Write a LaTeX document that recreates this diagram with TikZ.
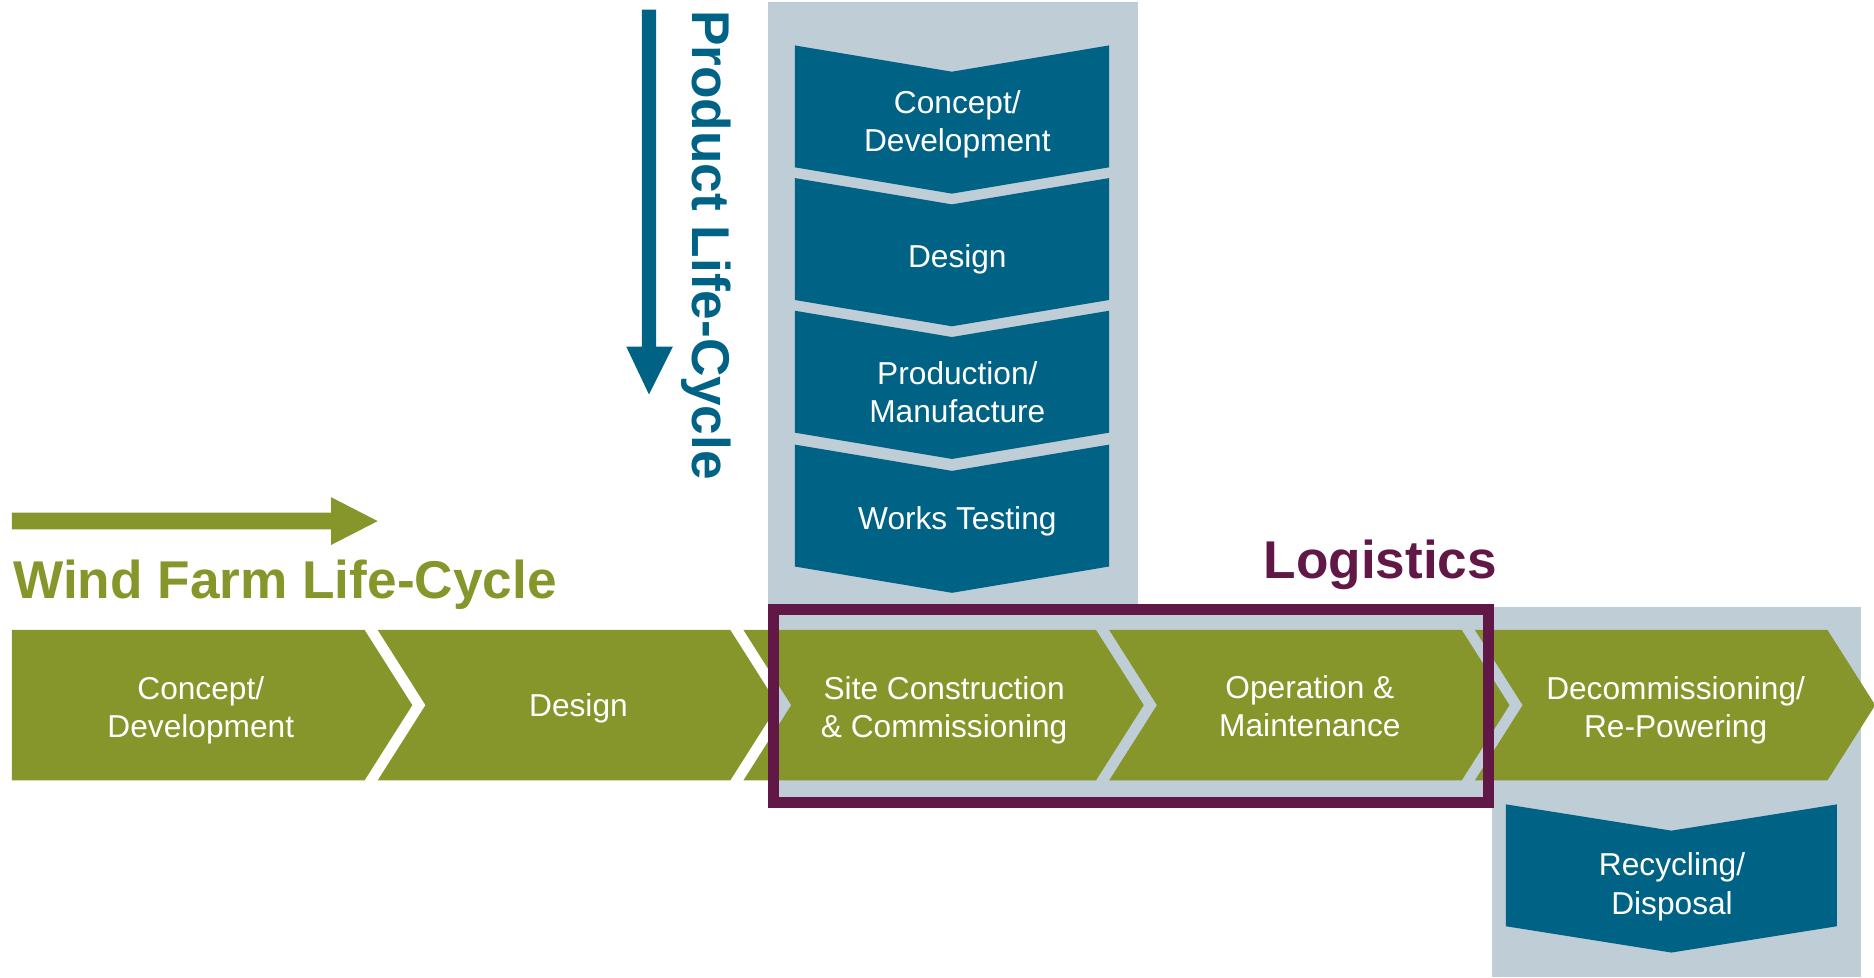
\documentclass[tikz,border=0pt]{standalone}
\usepackage{fontspec}
\setmainfont{Liberation Sans}
\definecolor{olive}{RGB}{134,150,43}
\definecolor{pblue}{RGB}{0,99,134}
\definecolor{panel}{RGB}{191,205,215}
\definecolor{logi}{RGB}{98,24,70}
\tikzset{
  stagetext/.style={text=white, align=center, inner sep=0pt, font=\fontsize{26.5}{32}\selectfont},
  titletext/.style={inner sep=0pt, font=\fontsize{44.5}{50}\selectfont\bfseries},
  panelbox/.style={fill=panel, draw=none}
}
\newcommand\mkhchev[1]{\fill[olive] ({#1},527) -- ({#1+295},527) -- ({#1+335},590) -- ({#1+295},653) -- ({#1},653) -- ({#1+40},590) -- cycle;}
\newcommand\mkvchev[3]{\fill[pblue] ({#1},{#3}) -- ({(#1+#2)/2},{#3+22}) -- ({#2},{#3}) -- ({#2},{#3+102}) -- ({(#1+#2)/2},{#3+124}) -- ({#1},{#3+102}) -- cycle;}
\begin{document}
\begin{tikzpicture}[x=1pt,y=-1pt]
\useasboundingbox (0,0) rectangle (1568,817.5);
% grey panels
\path[panelbox] (643,2) rectangle (952,512);
\path[panelbox] (647,510) rectangle (1245,671);
\path[panelbox] (1248,508) rectangle (1557,817.5);
% product life-cycle arrow
\fill[pblue] (537,8) -- (549,8) -- (549,290) -- (563,290) -- (543,330) -- (524,290) -- (537,290) -- cycle;
\node[titletext, text=pblue, rotate=-90] (plc) at (591,205) {Product Life-Cycle};
% wind farm arrow
\fill[olive] (10,429) -- (277,429) -- (277,416) -- (316,436) -- (277,456) -- (277,443) -- (10,443) -- cycle;
\node[titletext, text=olive, anchor=base west] (wflc) at (11,501) {Wind Farm Life-Cycle};
\node[titletext, text=logi, anchor=base west] (logt) at (1057,484) {Logistics};
% product chevrons
\mkvchev{665}{928}{38}
\mkvchev{665}{928}{149}
\mkvchev{665}{928}{260}
\mkvchev{665}{928}{372}
\mkvchev{1260}{1537}{673}
\node[stagetext] (p1) at (801,104) {Concept/\\Development};
\node[stagetext] (p2) at (801,217) {Design};
\node[stagetext] (p3) at (801,328) {Production/\\Manufacture};
\node[stagetext] (p4) at (801,436) {Works Testing};
\node[stagetext] (p5) at (1399,742) {Recycling/\\Disposal};
% wind farm chevrons
\fill[olive] (10,527) -- (305,527) -- (345,590) -- (305,653) -- (10,653) -- cycle;
\mkhchev{316}
\mkhchev{622}
\mkhchev{928}
\mkhchev{1234}
\node[stagetext] (w1) at (168,594) {Concept/\\Development};
\node[stagetext] (w2) at (484,593) {Design};
\node[stagetext] (w3) at (790,594) {Site Construction\\\& Commissioning};
\node[stagetext] (w4) at (1096,591) {Operation \&\\Maintenance};
\node[stagetext] (w5) at (1402,594) {Decommissioning/\\Re-Powering};
% logistics box
\draw[logi, line width=9pt] (647.5,510) rectangle (1245.5,671.5);
\end{tikzpicture}
\end{document}
